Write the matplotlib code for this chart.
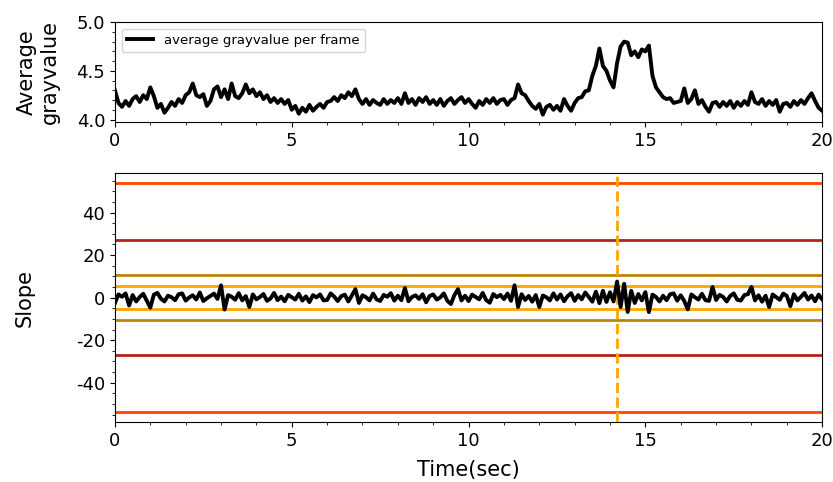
import numpy as np
import matplotlib.pyplot as plt
from matplotlib.ticker import MultipleLocator

plt.rcParams['axes.unicode_minus'] = False

gray = [
    4.30, 4.17, 4.13, 4.19, 4.14, 4.21, 4.24, 4.18, 4.25, 4.21,
    4.33, 4.24, 4.12, 4.16, 4.07, 4.12, 4.18, 4.14, 4.21, 4.17,
    4.25, 4.28, 4.37, 4.25, 4.23, 4.26, 4.14, 4.19, 4.31, 4.34,
    4.23, 4.31, 4.21, 4.37, 4.24, 4.22, 4.27, 4.36, 4.27, 4.31,
    4.24, 4.28, 4.21, 4.25, 4.18, 4.22, 4.17, 4.21, 4.16, 4.20,
    4.10, 4.14, 4.06, 4.12, 4.08, 4.15, 4.09, 4.13, 4.16, 4.12,
    4.18, 4.19, 4.23, 4.19, 4.25, 4.22, 4.28, 4.24, 4.31, 4.21,
    4.16, 4.21, 4.15, 4.20, 4.17, 4.15, 4.21, 4.16, 4.20, 4.17,
    4.22, 4.16, 4.27, 4.17, 4.21, 4.15, 4.22, 4.18, 4.23, 4.16,
    4.20, 4.15, 4.21, 4.14, 4.19, 4.22, 4.16, 4.20, 4.23, 4.17,
    4.21, 4.16, 4.12, 4.19, 4.15, 4.21, 4.17, 4.22, 4.16, 4.20,
    4.21, 4.15, 4.20, 4.22, 4.36, 4.27, 4.25, 4.19, 4.14, 4.11,
    4.16, 4.05, 4.13, 4.15, 4.10, 4.14, 4.09, 4.21, 4.14, 4.09,
    4.17, 4.22, 4.23, 4.29, 4.30, 4.45, 4.55, 4.73, 4.55, 4.50,
    4.40, 4.33, 4.58, 4.75, 4.80, 4.79, 4.66, 4.70, 4.64, 4.72,
    4.70, 4.76, 4.45, 4.33, 4.28, 4.23, 4.21, 4.22, 4.17, 4.18,
    4.19, 4.32, 4.17, 4.21, 4.30, 4.16, 4.20, 4.13, 4.08, 4.17,
    4.18, 4.13, 4.18, 4.14, 4.19, 4.12, 4.18, 4.14, 4.19, 4.15,
    4.28, 4.18, 4.16, 4.21, 4.14, 4.19, 4.15, 4.20, 4.08, 4.16,
    4.17, 4.13, 4.19, 4.15, 4.20, 4.16, 4.22, 4.27, 4.19, 4.12,
    4.09,
]

# helling van het signaal
slope = [
    -2.5, 1.5, 0.4, 2.0, -3.7, 1.2, -1.8, 0.3, 1.8, -1.5,
    -4.7, 1.4, 2.2, -0.5, -1.8, 0.9, 0.2, -1.2, 1.6, 2.0,
    -1.4, 0.1, 1.1, -0.9, 2.4, -1.6, -0.3, 0.8, 1.9, -0.6,
    5.8, -5.6, 1.2, 0.4, -1.0, 2.1, -1.3, 0.7, -4.4, 1.5,
    -0.8, 0.3, 1.7, -1.5, -0.4, 2.2, -1.2, 0.5, -1.7, 1.3,
    0.2, -0.9, 1.8, -1.4, 0.6, -2.1, 1.2, 0.1, 1.5, -1.3,
    -1.1, 2.0, 0.5, -1.6, 0.7, 1.4, -1.8, 1.0, 4.0, -2.5,
    1.1, 0.2, -1.3, 1.9, -0.8, -1.6, 1.3, 0.4, 2.1, -1.4,
    0.9, -1.2, 4.5, -1.7, 0.3, 1.1, -0.6, 1.6, -2.2, 0.8,
    1.5, -0.9, 0.1, 2.0, -1.5, -3.0, 1.2, 4.0, -1.3, 0.9,
    -1.6, 1.4, 0.3, -0.8, 2.2, -1.2, -2.4, 1.7, 0.2, 1.3,
    -0.7, 1.9, -1.5, 5.8, -4.4, 1.6, -1.1, 0.8, -1.9, 1.2,
    -4.4, 1.0, 0.2, -1.3, 2.0, -0.9, 1.5, -1.7, 0.7, 2.1,
    -1.5, 1.2, -0.8, 2.4, 0.3, -1.9, 2.8, -2.6, 3.2, -2.0,
    2.5, -1.8, 7.5, -4.4, 6.5, -6.7, 3.2, -2.5, 1.7, -1.3,
    2.6, -6.8, 1.4, 0.3, -1.8, 0.9, -1.2, 1.6, 2.0, -1.4,
    1.1, -1.6, -5.5, 1.5, 0.2, -0.9, 1.8, -1.2, -1.5, 5.0,
    -1.1, 1.3, 0.3, -1.8, 0.8, 2.0, -1.0, -1.4, 1.2, 1.6,
    5.0, -1.3, 1.1, -1.9, 0.9, -4.4, 1.5, 0.2, -1.0, 1.9,
    0.8, -4.0, 1.6, -1.3, 0.4, 2.2, -0.9, 1.0, -1.7, 1.4,
    -0.8,
]

time = [i * 0.1 for i in range(len(gray))]

# drempels (+/-) en hun kleuren
thresholds = [5.5, 10.7, 27.0, 54.0]
thr_colors = ['orange', 'darkgoldenrod', 'firebrick', 'orangered']
event_time = 14.2

fig = plt.figure(figsize=(8.33, 4.82), dpi=100)
ax1 = fig.add_axes([0.138, 0.747, 0.849, 0.207])
ax2 = fig.add_axes([0.138, 0.124, 0.849, 0.517])

ax1.plot(time, gray, color='black', lw=2.8, label='average grayvalue per frame')
ax1.set_xlim(0, 20)
ax1.set_ylim(3.975, 5.0)
ax1.set_yticks([4.0, 4.5, 5.0])
ax1.xaxis.set_major_locator(MultipleLocator(5))
ax1.xaxis.set_minor_locator(MultipleLocator(1))
ax1.yaxis.set_minor_locator(MultipleLocator(0.1))
ax1.set_ylabel('Average\ngrayvalue', fontsize=15)
ax1.yaxis.set_label_coords(-0.078, 0.5)
ax1.tick_params(labelsize=13)
ax1.legend(loc='upper left', fontsize=9.5)

for thr, c in zip(thresholds, thr_colors):
    ax2.axhline(thr, color=c, lw=2)
    ax2.axhline(-thr, color=c, lw=2)
ax2.axvline(event_time, color='orange', lw=2, ls='--')
ax2.plot(time, slope, color='black', lw=2.8)
ax2.set_xlim(0, 20)
ax2.set_ylim(-58.6, 58.6)
ax2.set_yticks([-40, -20, 0, 20, 40])
ax2.xaxis.set_major_locator(MultipleLocator(5))
ax2.xaxis.set_minor_locator(MultipleLocator(1))
ax2.yaxis.set_minor_locator(MultipleLocator(5))
ax2.set_ylabel('Slope', fontsize=15)
ax2.yaxis.set_label_coords(-0.113, 0.5)
ax2.set_xlabel('Time(sec)', fontsize=15, labelpad=7)
ax2.tick_params(labelsize=13)

fig.savefig('out.png', dpi=100)
